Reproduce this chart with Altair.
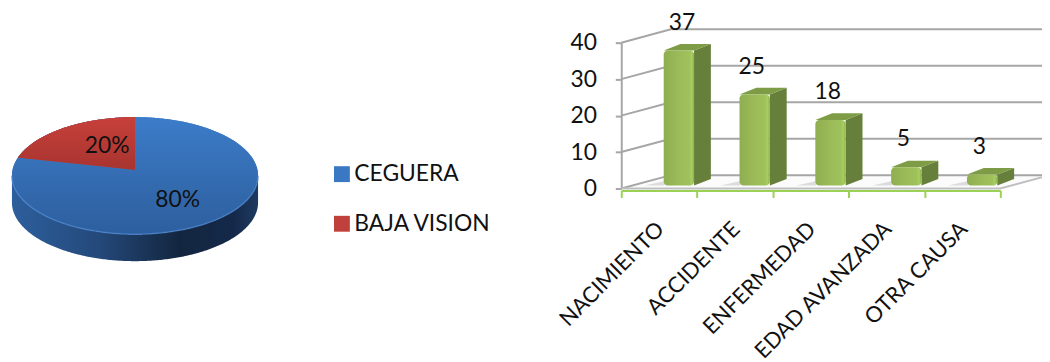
import numpy as np
import pandas as pd
import altair as alt

PIE_NAMES = ["CEGUERA", "BAJA VISION"]
PIE_SHARES = [80, 20]
PIE_LABELS = ["80%", "20%"]
PIE_LABEL_X = [0.347, -0.226]
PIE_LABEL_Y = [-0.424, 0.508]
PIE_COLORS = ["#3b78c4", "#c0403c"]
PIE_DEPTH = 0.46
APEX_Y = 0.10

CAUSES = ["NACIMIENTO", "ACCIDENTE", "ENFERMEDAD", "EDAD AVANZADA", "OTRA CAUSA"]
COUNTS = [37, 25, 18, 5, 3]
LABEL_NUDGE = [0.08, 0, 0, 0, 0]
Y_TICKS = [0, 10, 20, 30, 40]

WALL_DX, WALL_DY = 0.654, 3.67
BAR_L, BAR_R = 0.56, 0.96
BAR_BASE = 0.82
BAR_DX, BAR_DY = 0.222, 1.8

FONT = "Lato"
GRID = "#a6a6a6"
GREEN = "#9bd155"

def vgrad(*stops):
    return alt.LinearGradient(gradient="linear", x1=0, x2=0, y1=0, y2=1,
        stops=[alt.GradientStop(color=c, offset=o) for o, c in stops])

def hgrad(*stops):
    return alt.LinearGradient(gradient="linear", x1=0, x2=1, y1=0, y2=0,
        stops=[alt.GradientStop(color=c, offset=o) for o, c in stops])

# ---------------- pie panel ----------------
PX = alt.Scale(domain=[-1.032, 3.911], nice=False, zero=False)
PY = alt.Scale(domain=[-0.22, 2.271], nice=False, zero=False)
W1, H = 613, 147

def parea(df, **mark):
    return alt.Chart(df).mark_area(**mark).encode(
        x=alt.X("x:Q", scale=PX, axis=None),
        y=alt.Y("top:Q", scale=PY, axis=None),
        y2="bot:Q")

t = np.linspace(-1, 1, 241)
t = np.sin(t * np.pi / 2)
half = np.sqrt(1 - t**2)
disc = pd.DataFrame({"x": t, "top": half, "bot": -half, "name": PIE_NAMES[0]})
side = pd.DataFrame({"x": t, "top": -half, "bot": -half - PIE_DEPTH})

ang = np.radians(360 * PIE_SHARES[1] / sum(PIE_SHARES))
edge_x, edge_y = -np.sin(ang), np.cos(ang)
wx = np.linspace(edge_x, 0, 80)
wedge = pd.DataFrame({
    "x": wx,
    "top": np.sqrt(1 - wx**2),
    "bot": APEX_Y + (edge_y - APEX_Y) * (wx / edge_x),
    "name": PIE_NAMES[1],
})

def colored(df):
    return alt.Chart(df).mark_area().encode(
        x=alt.X("x:Q", scale=PX, axis=None),
        y=alt.Y("top:Q", scale=PY, axis=None),
        y2="bot:Q",
        color=alt.Color("name:N",
            scale=alt.Scale(domain=PIE_NAMES, range=PIE_COLORS),
            legend=alt.Legend(title=None, orient="none", legendX=325, legendY=121,
                symbolType="square", symbolSize=256, symbolStrokeWidth=0,
                labelFont=FONT, labelFontSize=23, labelColor="#111111",
                labelOffset=1, rowPadding=26, padding=0, labelLimit=300)))

pie_labels = pd.DataFrame({"x": PIE_LABEL_X, "y": PIE_LABEL_Y, "t": PIE_LABELS})
rim = pd.DataFrame({"x": t, "y": -half})
left = alt.layer(
    parea(side, fill=hgrad((0, "#2d5f9c"), (0.35, "#24497b"), (0.68, "#13263f"),
                           (0.9, "#14294a"), (1, "#1e3a60"))),
    colored(disc),
    parea(disc, fill=vgrad((0, "#3c7cc9"), (0.6, "#336aae"), (1, "#2d5f9f"))),
    alt.Chart(rim).mark_line(color="#4d86cf", strokeWidth=1.5, opacity=0.7).encode(
        x=alt.X("x:Q", scale=PX, axis=None),
        y=alt.Y("y:Q", scale=PY, axis=None)),
    colored(wedge),
    parea(wedge, fill=vgrad((0, "#c8403a"), (1, "#a83430"))),
    alt.Chart(pie_labels).mark_text(font=FONT, fontSize=23, color="#111111",
                                    baseline="middle").encode(
        x=alt.X("x:Q", scale=PX, axis=None),
        y=alt.Y("y:Q", scale=PY, axis=None),
        text="t:N"),
).properties(width=W1, height=H)

# ---------------- bar panel ----------------
W2 = 382
BX = alt.Scale(domain=[0, 5], nice=False, zero=False)
BY = alt.Scale(domain=[0, 40], nice=False, zero=False)
n = len(CAUSES)
XE = alt.X("x:Q", scale=BX, title=None)

def barea(df, **mark):
    return alt.Chart(df).mark_area(**mark).encode(
        x=XE,
        y=alt.Y("top:Q", scale=BY, title=None),
        y2="bot:Q", detail="k:N")

floor = pd.DataFrame({"k": 0,
    "x": [0, WALL_DX, n, n + WALL_DX],
    "top": [0, WALL_DY, WALL_DY, WALL_DY],
    "bot": [0, 0, 0, WALL_DY]})

walls = []
for v in Y_TICKS:
    walls += [dict(v=v, o=0, x=0, y=v),
              dict(v=v, o=1, x=WALL_DX, y=v + WALL_DY),
              dict(v=v, o=2, x=n + WALL_DX, y=v + WALL_DY)]
walls = pd.DataFrame(walls)
front_edge = pd.DataFrame({"o": [0, 1, 2], "x": [0, n, n + WALL_DX], "y": [0, 0, WALL_DY]})

def bline(df, **mark):
    enc = dict(x=XE, y=alt.Y("y:Q", scale=BY, title=None), order="o:Q")
    if "v" in df:
        enc["detail"] = "v:N"
    return alt.Chart(df).mark_line(**mark).encode(**enc)

fronts, sides, tops, shadows = [], [], [], []
for i, v in enumerate(COUNTS):
    x0, x1 = i + BAR_L, i + BAR_R
    y0, y1 = BAR_BASE, v + BAR_BASE
    fronts.append(dict(x=x0, x2=x1, top=y1, bot=y0))
    sides += [dict(k=i, x=x1, top=y1, bot=y0),
              dict(k=i, x=x1 + BAR_DX, top=y1 + BAR_DY, bot=y0 + BAR_DY)]
    tops += [dict(k=i, x=x0, top=y1, bot=y1),
             dict(k=i, x=x0 + BAR_DX, top=y1 + BAR_DY, bot=y1),
             dict(k=i, x=x1, top=y1 + BAR_DY, bot=y1),
             dict(k=i, x=x1 + BAR_DX, top=y1 + BAR_DY, bot=y1 + BAR_DY)]
    shadows += [dict(k=i, x=x0 - 0.25, top=y0, bot=y0),
                dict(k=i, x=x0, top=y0 + 1.2, bot=y0),
                dict(k=i, x=x0 + 0.1, top=y0 + 1.2, bot=y0 + 1.2)]
fronts, sides, tops, shadows = map(pd.DataFrame, (fronts, sides, tops, shadows))

value_labels = pd.DataFrame({"x": [i + 0.5 + d for i, d in enumerate(LABEL_NUDGE)],
                             "y": COUNTS, "t": [str(c) for c in COUNTS]})
names_js = "[" + ",".join(f"'{c}'" for c in CAUSES) + ",'']"

axes = alt.Chart(pd.DataFrame({"x": [0], "y": [0]})).mark_point(opacity=0).encode(
    x=alt.X("x:Q", scale=BX, title=None, axis=alt.Axis(
        values=list(range(n + 1)), tickCount=n + 1, grid=False, offset=2,
        domainColor=GREEN, domainWidth=2, tickColor=GREEN, tickWidth=2, tickSize=7,
        labelExpr=f"{names_js}[datum.value]", labelAngle=-45, labelAlign="right",
        labelBaseline="middle", labelOffset=39, labelPadding=28,
        labelFont=FONT, labelFontSize=22, labelColor="#111111", labelLimit=400,
        labelFlush=False)),
    y=alt.Y("y:Q", scale=BY, title=None, axis=alt.Axis(
        values=Y_TICKS, tickCount=len(Y_TICKS), grid=False,
        domainColor=GRID, domainWidth=2, tickColor=GRID, tickWidth=2, tickSize=6,
        labelFont=FONT, labelFontSize=23, labelColor="#111111", labelPadding=19)),
)

right = alt.layer(
    axes,
    barea(floor, fill="#fbfbfb"),
    bline(walls, color=GRID, strokeWidth=2),
    bline(front_edge, color="#bfbfbf", strokeWidth=2),
    barea(shadows, fill="#dcdcdc"),
    barea(sides, fill="#667f3a"),
    barea(tops, fill="#7d9c45"),
    alt.Chart(fronts).mark_rect(cornerRadius=4,
        fill=hgrad((0, "#8fae50"), (0.5, "#9bbb59"), (0.85, "#9fc25c"),
                   (0.92, "#a8d05f"), (1, "#8eae4e"))).encode(
        x=XE, x2="x2:Q",
        y=alt.Y("top:Q", scale=BY, title=None), y2="bot:Q"),
    alt.Chart(value_labels).mark_text(font=FONT, fontSize=23, color="#111111",
                                      baseline="middle", dx=17, dy=-31).encode(
        x=XE,
        y=alt.Y("y:Q", scale=BY, title=None),
        text="t:N"),
).properties(width=W2, height=H)

chart = alt.hconcat(left, right, spacing=5, bounds="flush").properties(
    autosize=alt.AutoSizeParams(type="none"),
    padding={"left": 0, "top": 33, "right": 1042, "bottom": 321},
    background="white",
).configure_view(stroke=None).configure_axis(labelOverlap=False)

chart.save("out.html", embed_options={"renderer": "svg", "actions": False})
